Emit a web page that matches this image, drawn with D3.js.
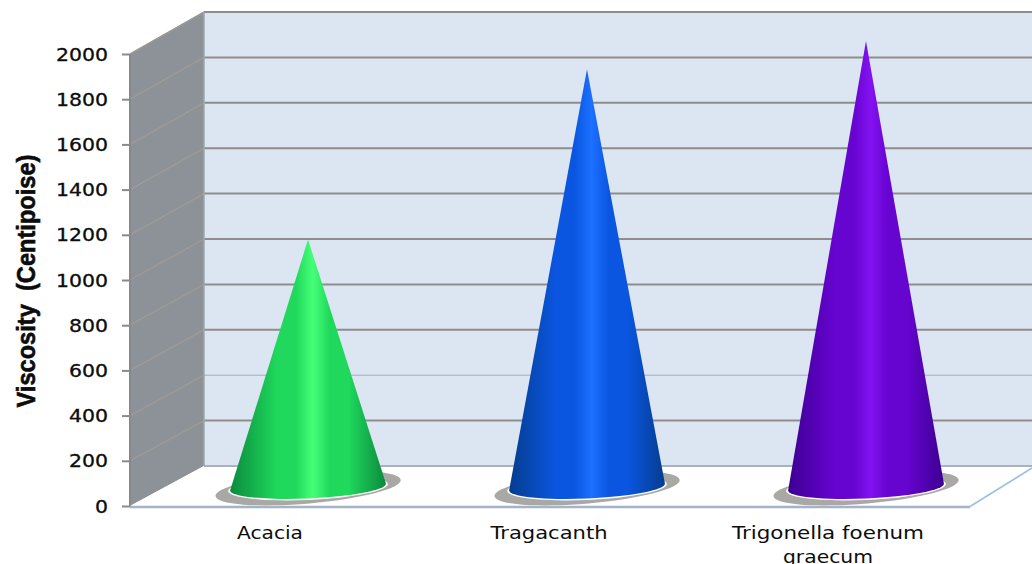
<!DOCTYPE html>
<html>
<head>
<meta charset="utf-8">
<script src="https://cdn.jsdelivr.net/npm/d3@7"></script>
<style>
html,body{margin:0;padding:0;background:#fff;overflow:hidden}
svg{display:block}
text{fill:#0c0c0c}
</style>
</head>
<body>
<div id="chart"></div>
<script>
// Viscosity of three gums, shown as cones on a 3-D style floor
const categories = ["Acacia", "Tragacanth", "Trigonella foenum graecum"];
const categoryLines = [["Acacia"], ["Tragacanth"], ["Trigonella foenum", "graecum"]];
const viscosity = [1090, 1840, 1965];
const tickValues = [0, 200, 400, 600, 800, 1000, 1200, 1400, 1600, 1800, 2000];
const coneBright = ["#46ff78", "#1c70ff", "#8412f2"];
const coneMid = ["#1fd85c", "#0a56e0", "#6604d0"];
const coneDark = ["#0b8a3e", "#053c8e", "#3c0092"];
const labelLengths = [[66], [117], [192, 90]];

const W = 1032, H = 564;
const frontX = 130, backX = 204, floorRight = 970;

const svg = d3.select("#chart").append("svg").attr("width", W).attr("height", H);
const defs = svg.append("defs");

// Three value scales: front edge of the side wall, the cone plane, the back wall
const yFront = d3.scaleLinear().domain([0, 2000]).range([506, 54]);
const yBack = d3.scaleLinear().domain([0, 2000]).range([466, 12]);
const yMid = d3.scaleLinear().domain([0, 2000]).range([487, 33]);
const x = d3.scaleBand().domain(categories).range([107, 1067]).padding(0.441);
const cx = c => x(c) + x.bandwidth() / 2;

// Back wall
svg.append("rect").attr("x", backX).attr("y", yBack(2000))
  .attr("width", W - backX).attr("height", yBack(0) - yBack(2000)).attr("fill", "#dce6f2");

// Side wall
svg.append("path")
  .attr("d", d3.line()([[frontX, yFront(0)], [frontX, yFront(2000)], [backX, yBack(2000)], [backX, yBack(0)]]))
  .attr("fill", "#8c9298");

// Floor
svg.append("path")
  .attr("d", d3.line()([[frontX, yFront(0)], [backX, yBack(0)], [W, yBack(0)], [W, 468], [floorRight, yFront(0)]]))
  .attr("fill", "#ffffff");

// Gridlines on the back wall and across the side wall
tickValues.forEach(t => {
  const isBase = t === 0;
  svg.append("line").attr("x1", backX).attr("x2", W)
    .attr("y1", yBack(t)).attr("y2", yBack(t))
    .attr("stroke", isBase ? "#a9b1bc" : (t === 400 ? "#a8abb0" : "#8d8d8d"))
    .attr("stroke-width", t === 400 ? 1 : 2);
  if (t > 0) {
    svg.append("line").attr("x1", frontX).attr("x2", backX)
      .attr("y1", yFront(t)).attr("y2", yBack(t))
      .attr("stroke", "#a09a96").attr("stroke-width", 1.4);
  }
});

// Wall edges
svg.append("line").attr("x1", backX).attr("x2", backX).attr("y1", yBack(2000)).attr("y2", yBack(0))
  .attr("stroke", "#a2a6ab").attr("stroke-width", 1.5);
svg.append("line").attr("x1", frontX).attr("x2", frontX).attr("y1", yFront(2000)).attr("y2", yFront(0))
  .attr("stroke", "#85888c").attr("stroke-width", 2);
svg.append("line").attr("x1", frontX).attr("x2", backX).attr("y1", yFront(2000)).attr("y2", yBack(2000))
  .attr("stroke", "#9a9a9a").attr("stroke-width", 1.2);

// Floor edges
svg.append("line").attr("x1", frontX).attr("x2", floorRight).attr("y1", yFront(0)+1).attr("y2", yFront(0)+1)
  .attr("stroke", "#a3b3c8").attr("stroke-width", 2.5);
svg.append("line").attr("x1", floorRight).attr("x2", W).attr("y1", yFront(0)+0.5).attr("y2", 468)
  .attr("stroke", "#9dc0e6").attr("stroke-width", 1.8);

// Value axis
const axis = d3.axisLeft(yFront).tickValues(tickValues).tickFormat(d3.format("d")).tickSize(8).tickSizeOuter(0);
const axisG = svg.append("g").attr("transform", `translate(${frontX},0)`).call(axis);
axisG.select(".domain").remove();
axisG.selectAll(".tick line").attr("stroke", "#8a8a8a").attr("stroke-width", 2);
axisG.selectAll(".tick text")
  .attr("x", -22).attr("dy", "0.36em")
  .attr("font-family", "DejaVu Sans").attr("font-size", 17)
  .attr("text-anchor", "end")
  .style("stroke", "#0c0c0c").style("stroke-width", 0.3)
  .each(function(d) {
    d3.select(this).attr("textLength", String(d).length * 13).attr("lengthAdjust", "spacingAndGlyphs");
  });

// Cones
const ry = 11.5, tilt = -2.5, shadowTilt = -5;
categories.forEach((c, i) => {
  const mx = cx(c), base = yMid(0), halfW = x.bandwidth() / 2;
  const rad = tilt * Math.PI / 180;
  const lx = mx - halfW * Math.cos(rad), ly = base - halfW * Math.sin(rad);
  const rxp = mx + halfW * Math.cos(rad), ryp = base + halfW * Math.sin(rad);

  const grad = defs.append("linearGradient").attr("id", "cone" + i)
    .attr("gradientUnits", "userSpaceOnUse")
    .attr("x1", mx - halfW).attr("x2", mx + halfW).attr("y1", 0).attr("y2", 0);
  [[0, coneDark[i]], [0.3, coneMid[i]], [0.42, coneMid[i]], [0.53, coneBright[i]], [0.64, coneMid[i]], [0.76, coneMid[i]], [1, coneDark[i]]]
    .forEach(([o, col]) => grad.append("stop").attr("offset", o).attr("stop-color", col));

  // Ground shadow and its pale halo under the base
  svg.append("ellipse").attr("cx", mx).attr("cy", base + 1)
    .attr("rx", halfW + 15).attr("ry", ry + 4)
    .attr("transform", `rotate(${shadowTilt} ${mx} ${base})`).attr("fill", "#aaa8a4");
  svg.append("ellipse").attr("cx", mx).attr("cy", base + 0.5)
    .attr("rx", halfW + 2).attr("ry", ry + 1)
    .attr("transform", `rotate(${tilt} ${mx} ${base})`).attr("fill", "#ffffff");

  // Cone body: apex down both flanks, closed by the tilted base arc
  const apex = [mx, yMid(viscosity[i])];
  svg.append("path")
    .attr("d", `M${apex[0]},${apex[1]}L${lx},${ly}A${halfW},${ry} ${tilt} 0 0 ${rxp},${ryp}Z`)
    .attr("fill", `url(#cone${i})`);
});

// Category labels
categories.forEach((c, i) => {
  const t = svg.append("text").attr("text-anchor", "middle")
    .attr("font-family", "DejaVu Sans").attr("font-size", 18.5);
  categoryLines[i].forEach((line, j) => {
    t.append("tspan").attr("x", cx(c) - 38)
      .attr("y", 538.5 + j * 24)
      .attr("textLength", labelLengths[i][j]).attr("lengthAdjust", "spacingAndGlyphs")
      .text(line);
  });
});

// Value axis title
svg.append("text")
  .attr("transform", "translate(35,281) rotate(-90)")
  .attr("text-anchor", "middle")
  .attr("font-family", "Liberation Sans").attr("font-weight", "bold").attr("font-size", 25)
  .attr("textLength", 253).attr("lengthAdjust", "spacingAndGlyphs")
  .style("white-space", "pre").style("stroke", "#0c0c0c").style("stroke-width", 0.6)
  .text("Viscosity  (Centipoise)");
</script>
</body>
</html>
